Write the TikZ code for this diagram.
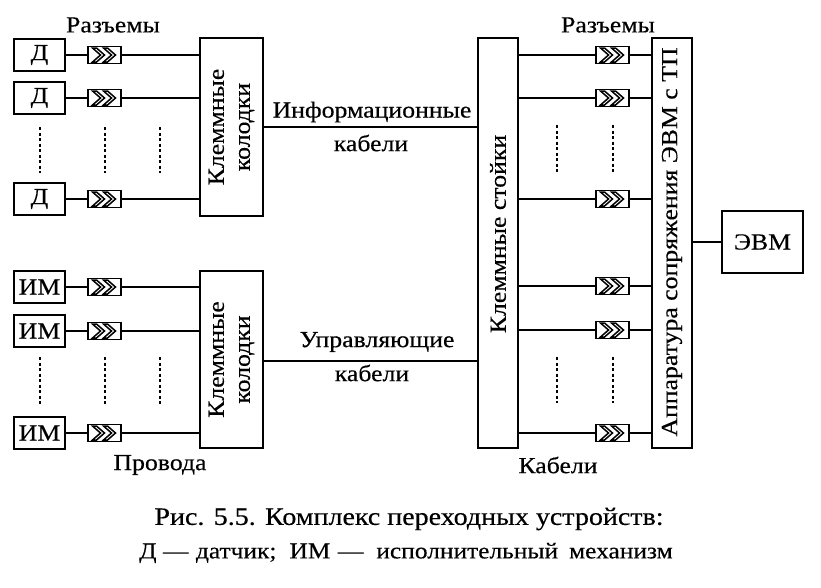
\documentclass[tikz,border=0pt]{standalone}
\usepackage{fontspec}
\setmainfont[FakeStretch=1.12,FakeBold=0.35]{Liberation Serif}
\begin{document}
\begin{tikzpicture}[x=1pt,y=-1pt,
  box/.style={draw, line width=2pt, inner sep=0pt},
  wire/.style={line width=1.8pt},
  dots/.style={line width=1.4pt, dash pattern=on 3pt off 2.5pt},
  lbl/.style={font=\fontsize{23}{26}\selectfont, inner sep=0pt},
  sensor/.style={box, lbl, minimum width=51pt, minimum height=32pt},
  conn/.style={draw, line width=1.9pt, minimum width=33pt, minimum height=17pt, inner sep=0pt,
    path picture={\draw[line width=1.5pt, line join=miter, shift={(path picture bounding box.center)}]
      (-12,-7) -- (-8,-7) -- (0,0) -- (-8,7) -- (-12,7) -- (-4,0) -- cycle
      (-1,-7) -- (3,-7) -- (11,0) -- (3,7) -- (-1,7) -- (7,0) -- cycle;}}
]
\useasboundingbox[fill=white] (0,0) rectangle (821,587);

% ---------- left upper group (sensors) ----------
\node[sensor] (d1) at (39.5,55) {Д};
\node[sensor] (d2) at (39.5,98) {Д};
\node[sensor] (d3) at (39.5,199) {Д};
\node[conn] (c1) at (104.5,55) {};
\node[conn] (c2) at (104.5,98) {};
\node[conn] (c3) at (104.5,199) {};
\node[box, minimum width=63pt, minimum height=178pt] (k1) at (231.5,127) {};
\node[lbl, rotate=90, align=center] (k1t) at (k1.center) {Клеммные\\колодки};

% ---------- left lower group (actuators) ----------
\node[sensor] (m1) at (39.5,287) {ИМ};
\node[sensor] (m2) at (39.5,331) {ИМ};
\node[sensor] (m3) at (39.5,433) {ИМ};
\node[conn] (c4) at (104.5,287) {};
\node[conn] (c5) at (104.5,331) {};
\node[conn] (c6) at (104.5,433) {};
\node[box, minimum width=63pt, minimum height=177pt] (k2) at (231.5,359.5) {};
\node[lbl, rotate=90, align=center] (k2t) at (k2.center) {Клеммные\\колодки};

% ---------- racks, interface, computer ----------
\node[box, minimum width=40pt, minimum height=410pt] (st) at (498,243) {};
\node[lbl, rotate=90] (stt) at (498,234) {Клеммные стойки};
\node[box, minimum width=40pt, minimum height=410pt] (ap) at (672,243) {};
\node[lbl, rotate=90] (apt) at (672,242) {Аппаратура сопряжения ЭВМ с ТП};
\node[box, lbl, minimum width=81pt, minimum height=62pt] (evm) at (762.5,242) {ЭВМ};

% ---------- right connectors ----------
\node[conn] (r1) at (612.5,55) {};
\node[conn] (r2) at (612.5,98) {};
\node[conn] (r3) at (612.5,199) {};
\node[conn] (r4) at (612.5,286) {};
\node[conn] (r5) at (612.5,330) {};
\node[conn] (r6) at (612.5,433) {};

% ---------- wires ----------
\foreach \s/\c in {d1/c1,d2/c2,d3/c3,m1/c4,m2/c5,m3/c6}{
  \draw[wire] (\s.east) -- (\c.west);
}
\foreach \c in {c1,c2,c3}{\draw[wire] (\c.east) -- (\c.east -| k1.west);}
\foreach \c in {c4,c5,c6}{\draw[wire] (\c.east) -- (\c.east -| k2.west);}
\foreach \r in {r1,r2,r3,r4,r5,r6}{
  \draw[wire] (\r.west -| st.east) -- (\r.west);
  \draw[wire] (\r.east) -- (\r.east -| ap.west);
}
\draw[wire] (k1.east) -- (k1.east -| st.west);
\coordinate (ua) at ([yshift=-1.5pt]k2.east);
\draw[wire] (ua) -- (ua -| st.west);
\draw[wire] (evm.west) -- (evm.west -| ap.east);

% ---------- dotted continuation marks ----------
\foreach \x in {40,105,160}{
  \draw[dots] (\x,127) -- (\x,173);
  \draw[dots] (\x,357) -- (\x,405);
}
\foreach \x in {557,613}{
  \draw[dots] (\x,125) -- (\x,172);
  \draw[dots] (\x,357) -- (\x,403);
}

% ---------- labels ----------
\node[lbl] (lz1) at (113,25) {Разъемы};
\node[lbl] (lz2) at (608,25) {Разъемы};
\node[lbl] (li1) at (372,112) {Информационные};
\node[lbl] (li2) at (371,143) {кабели};
\node[lbl] (lu1) at (377,342) {Управляющие};
\node[lbl] (lu2) at (372,373) {кабели};
\node[lbl] (lp) at (160,465) {Провода};
\node[lbl] (lk) at (558,465) {Кабели};

% ---------- caption ----------
\node[font=\fontsize{25}{28}\selectfont, inner sep=0pt] (cap1) at (409,519)
  {Рис. 5.5. Комплекс переходных устройств:};
\node[font=\fontsize{22.7}{26}\selectfont, inner sep=0pt] (cap2) at (406,553)
  {Д\hspace{6.5pt}---\hspace{7.5pt}датчик;\hspace{13pt}ИМ\hspace{7.5pt}---\hspace{13pt}исполнительный\hspace{11pt}механизм};
\end{tikzpicture}
\end{document}
